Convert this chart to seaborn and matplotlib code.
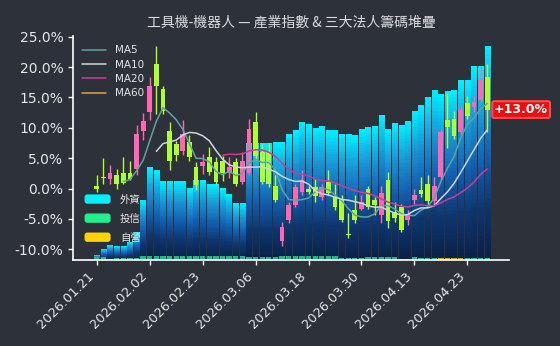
import numpy as np
import pandas as pd
import matplotlib
matplotlib.use("Agg")
import matplotlib.pyplot as plt
import seaborn as sns
from matplotlib.colors import LinearSegmentedColormap
from matplotlib.lines import Line2D
from matplotlib.patches import Patch, FancyBboxPatch
from matplotlib.legend_handler import HandlerPatch
from matplotlib.ticker import FuncFormatter

# ---------------- data ----------------
TITLE = "工具機-機器人 — 產業指數 & 三大法人籌碼堆疊"
holidays = ["2026-02-12", "2026-02-13", "2026-02-16", "2026-02-17", "2026-02-18",
            "2026-02-19", "2026-02-20", "2026-02-27", "2026-04-03", "2026-04-06"]
dates = pd.bdate_range("2026-01-21", "2026-04-28", freq="C", holidays=holidays)

# industry index, % change vs base
open_ = [0.5, 1.9, 1.6, 2.2, 2.5, 2.5, 3.3, 9.4, 12.6, 20.5,
         16.3, 9.5, 7.4, 6.1, 7.7, 3.5, 3.7, 5.2, 4.4, 4.6,
         2.5, 4.4, 1.1, 2.6, 10.9, 6.0, 6.0, 0.5, -8.6, -5.2,
         -2.7, -0.5, 0.0, 0.3, -1.4, 1.1, -1.4, -1.9, -7.5, -3.6,
         -3.3, 0.0, -1.9, -4.4, 1.4, -3.8, -3.0, -5.2, -1.9, -0.3,
         0.8, -2.1, 1.9, 11.2, 11.5, 9.3, 14.0, 13.4, 14.5, 18.4]
high = [2.2, 5.0, 3.8, 3.3, 5.2, 4.6, 10.4, 12.5, 18.3, 23.5,
        16.8, 10.9, 7.9, 11.3, 8.8, 4.4, 5.7, 6.8, 5.2, 5.3,
        5.2, 5.0, 6.0, 11.5, 12.6, 7.4, 7.5, 2.2, -5.5, -2.2,
        0.8, 3.0, 0.4, 1.6, 0.8, 3.0, 0.8, -1.1, -4.1, -1.1,
        -1.1, 0.5, -1.4, 0.5, 2.7, -2.2, -2.5, -3.6, 0.0, 1.9,
        2.2, 1.9, 9.8, 15.8, 12.8, 13.6, 15.3, 15.3, 20.2, 20.5]
low = [-0.5, 0.7, 0.8, 0.0, 0.8, 1.4, 2.2, 8.0, 11.2, 12.3,
       12.3, 3.0, 4.6, 5.6, 4.6, -0.3, 2.4, 2.3, 0.8, 1.2,
       1.8, 0.5, 0.8, 2.3, 4.7, 0.8, 0.3, -2.2, -9.5, -5.6,
       -3.0, -1.1, -0.9, -2.2, -1.8, -1.1, -3.6, -5.5, -8.2, -5.7,
       -3.6, -3.3, -4.4, -5.7, -6.5, -5.5, -7.1, -6.0, -2.5, -1.4,
       -2.7, -2.7, 1.4, 6.6, 8.2, 8.7, 11.5, 12.6, 14.2, 9.3]
close = [0.0, 1.7, 2.5, 0.7, 0.9, 1.6, 8.9, 11.1, 16.9, 16.9,
         12.7, 4.6, 5.5, 9.0, 5.2, 0.6, 4.4, 2.8, 1.1, 2.5,
         3.5, 0.8, 4.5, 9.8, 5.3, 1.1, 0.8, -1.8, -6.3, -2.7,
         0.3, 1.4, -0.5, -1.2, 0.3, -0.8, -3.0, -5.2, -7.7, -5.2,
         -2.2, -3.0, -2.7, -0.8, -5.3, -4.9, -6.8, -4.2, -1.0, -0.9,
         -2.1, 0.4, 9.3, 10.1, 8.7, 13.0, 12.0, 14.2, 17.8, 13.0]

# institutional cumulative positions (arbitrary units, secondary scale 0-100)
foreign = [1.0, 3.7, 5.7, 4.9, 4.9, 6.6, 11.1, 24.5, 39.2, 37.9,
           33.5, 33.5, 33.5, 33.5, 30.3, 33.9, 33.9, 32.1, 32.1, 29.8,
           27.2, 23.1, 23.1, 50.4, 50.4, 50.4, 50.4, 50.9, 50.8, 54.4,
           56.1, 59.7, 58.8, 57.0, 57.9, 56.1, 56.1, 55.4, 55.4, 54.9,
           57.6, 57.9, 58.3, 63.2, 57.0, 59.7, 59.7, 61.5, 65.1, 68.1,
           71.7, 74.8, 72.6, 73.9, 74.4, 78.9, 79.3, 85.5, 85.5, 94.4]
trust = [1.2, 1.2, 0.6, 0.6, 0.6, 0.6, 0.6, 1.5, 1.5, 1.5,
         1.5, 1.5, 1.5, 1.5, 1.5, 1.5, 1.5, 1.5, 1.5, 1.5,
         1.5, 1.5, 1.5, 1.0, 1.0, 1.0, 1.0, 1.0, 1.6, 1.6,
         1.6, 1.6, 1.6, 1.6, 1.6, 1.6, 1.6, 0.6, 0.6, 0.6,
         0.6, 1.3, 1.3, 1.3, 1.3, 1.3, 0.4, 0.4, 1.2, 0.3,
         0.3, 0.3, 0.3, 0.3, 0.3, 0.3, 0.3, 0.3, 0.3, 0.3]
dealer = [0.0, 0.0, 0.0, 0.4, 0.4, 0.4, 0.4, 0.4, 0.4, 0.4,
          0.2, 0.2, 0.2, 0.2, 0.2, 0.2, 0.2, 0.2, 0.2, 0.4,
          0.4, 0.4, 0.4, 0.4, 0.4, 0.4, 0.4, 0.4, 0.2, 0.2,
          0.2, 0.2, 0.2, 0.2, 0.2, 0.2, 0.2, 0.2, 0.2, 0.2,
          0.2, 0.1, 0.1, 0.1, 0.1, 0.1, 0.1, 0.1, 0.1, 0.5,
          0.5, 0.5, 0.8, 0.8, 0.8, 0.8, 0.5, 0.5, 0.5, 0.5]

ma_windows = [5, 10, 20, 60]
ma_colors = ["#5fa3a3", "#cdd7e0", "#cf3a9a", "#e5a338"]
inst_labels = ["外資", "投信", "自營"]
inst_colors = ["#00f0ff", "#1ef08c", "#ffd400"]
inst_bar_colors = ["#00f0ff", "#1fb886", "#c9a80c"]

# ---------------- style ----------------
BG = "#2d313a"
FG = "#e6e6e6"
UP = "#ff66b3"
DOWN = "#adff2f"
sns.set_theme(style="dark", rc={"axes.facecolor": BG, "figure.facecolor": BG,
                                "axes.grid": False})
plt.rcParams["font.family"] = ["DejaVu Sans", "Noto Sans CJK TC"]
CJK = ["Noto Sans CJK TC", "DejaVu Sans"]

df = pd.DataFrame({"x": np.arange(len(dates)), "open": open_, "high": high,
                   "low": low, "close": close, "foreign": foreign,
                   "trust": trust, "dealer": dealer})
df["inst_all"] = df["foreign"] + df["trust"] + df["dealer"]
df["inst_td"] = df["trust"] + df["dealer"]

fig = plt.figure(figsize=(5.6, 3.46), dpi=100, facecolor=BG)
ax = fig.add_axes([73 / 560, 1 - 260 / 346, (509 - 73) / 560, (260 - 36) / 346])
ax2 = ax.twinx()
ax.set_zorder(ax2.get_zorder() + 1)
ax.patch.set_visible(False)
ax2.patch.set_visible(False)

# ---------------- stacked institutional bars (secondary axis) ----------------
sns.barplot(data=df, x="x", y="inst_all", native_scale=True, ax=ax2,
            color=inst_bar_colors[0], width=0.8, linewidth=0, saturation=1)
main_bars = list(ax2.patches)
sns.barplot(data=df, x="x", y="inst_td", native_scale=True, ax=ax2,
            color=inst_bar_colors[1], width=0.8, linewidth=0, saturation=1)
sns.barplot(data=df, x="x", y="dealer", native_scale=True, ax=ax2,
            color=inst_bar_colors[2], width=0.8, linewidth=0, saturation=1)

cmap = LinearSegmentedColormap.from_list(
    "inst", ["#0a2148", "#0d3670", "#1360b0", "#1a98d6", "#00eeff"])
grad = np.linspace(0, 1, 48).reshape(-1, 1)
for r in main_bars:
    x0, y0, w, h = r.get_x(), r.get_y(), r.get_width(), r.get_height()
    if h <= 0:
        continue
    ax2.imshow(grad, extent=(x0, x0 + w, y0, y0 + h), origin="lower",
               aspect="auto", cmap=cmap, interpolation="nearest", zorder=0.5)
    r.set_visible(False)

ax2.set_ylim(0, 100)
ax2.set_yticks([])
ax2.set_ylabel("")
ax2.set_xlabel("")
for s in ax2.spines.values():
    s.set_visible(False)

# ---------------- candlesticks (main axis) ----------------
up = df["close"] >= df["open"]
ccol = np.where(up, UP, DOWN)
ax.vlines(df["x"], df["low"], df["high"], colors=ccol, lw=1.0, zorder=3)
body_lo = np.minimum(df["open"], df["close"])
body_h = np.maximum((df["close"] - df["open"]).abs(), 0.25)
ax.bar(df["x"], body_h, bottom=body_lo, width=0.72, color=ccol, linewidth=0, zorder=4)

# ---------------- moving averages ----------------
handles = []
for w, c in zip(ma_windows, ma_colors):
    ma = df["close"].rolling(w).mean()
    if ma.notna().sum() > 1:
        sns.lineplot(x=df["x"], y=ma, ax=ax, color=c, lw=1.1, zorder=5)
    handles.append(Line2D([0], [0], color=c, lw=1.1, label=f"MA{w}"))

# ---------------- axes cosmetics ----------------
ax.set_xlim(-3.6, 62.3)
ax2.set_xlim(-3.6, 62.3)
ax.set_ylim(-11.75, 25.1)
ax.set_yticks(np.arange(-10, 26, 5))
ax.yaxis.set_major_formatter(FuncFormatter(lambda v, p: f"{v:.1f}%"))
tick_idx = df["x"].iloc[::8]
ax.set_xticks(tick_idx)
ax.set_xticklabels(dates[::8].strftime("%Y.%m.%d"), rotation=45, ha="right")
ax.set_xlabel("")
ax.set_ylabel("")
ax.tick_params(axis="both", colors="white", labelcolor=FG, labelsize=10,
               length=3.5, width=1, left=True, bottom=True)
ax.tick_params(axis="x", labelsize=9.3)
for side in ["top", "right"]:
    ax.spines[side].set_visible(False)
for side in ["left", "bottom"]:
    ax.spines[side].set_color("white")
    ax.spines[side].set_linewidth(1.2)

ax.set_title(TITLE, color="#dcdcdc", fontsize=10, family=CJK, pad=7)

# legends
leg1 = ax.legend(handles=handles, loc="upper left", frameon=False, fontsize=7.5,
                 labelcolor=FG, handlelength=2.3, handletextpad=0.8,
                 labelspacing=0.42)
ax.add_artist(leg1)


class RoundHandler(HandlerPatch):
    def create_artists(self, legend, orig_handle, xdescent, ydescent, width,
                       height, fontsize, trans):
        p = FancyBboxPatch((-xdescent, -ydescent), width, height,
                           boxstyle="round,pad=0,rounding_size=2",
                           fc=orig_handle.get_facecolor(), ec="none",
                           transform=trans)
        return [p]


inst_handles = [Patch(facecolor=c, label=l) for l, c in zip(inst_labels, inst_colors)]
ax.legend(handles=inst_handles, loc="lower left", bbox_to_anchor=(0.005, 0.035),
          frameon=False, prop={"family": CJK, "size": 7.5}, labelcolor=FG,
          handlelength=2.5, handleheight=1.0, handletextpad=0.9,
          labelspacing=0.85,
          handler_map={Patch: RoundHandler()})

# last value label
last = df["close"].iloc[-1]
ax.annotate(f"{last:+.1f}%", xy=(df["x"].iloc[-1], last), xytext=(5, 0),
            textcoords="offset points", ha="left", va="center", color="white",
            fontsize=9, fontweight="bold", zorder=10,
            bbox=dict(boxstyle="round,pad=0.15", fc="#e81010", ec="#ff4a4a", lw=1.5))

fig.savefig("out.png", dpi=100, facecolor=BG)
